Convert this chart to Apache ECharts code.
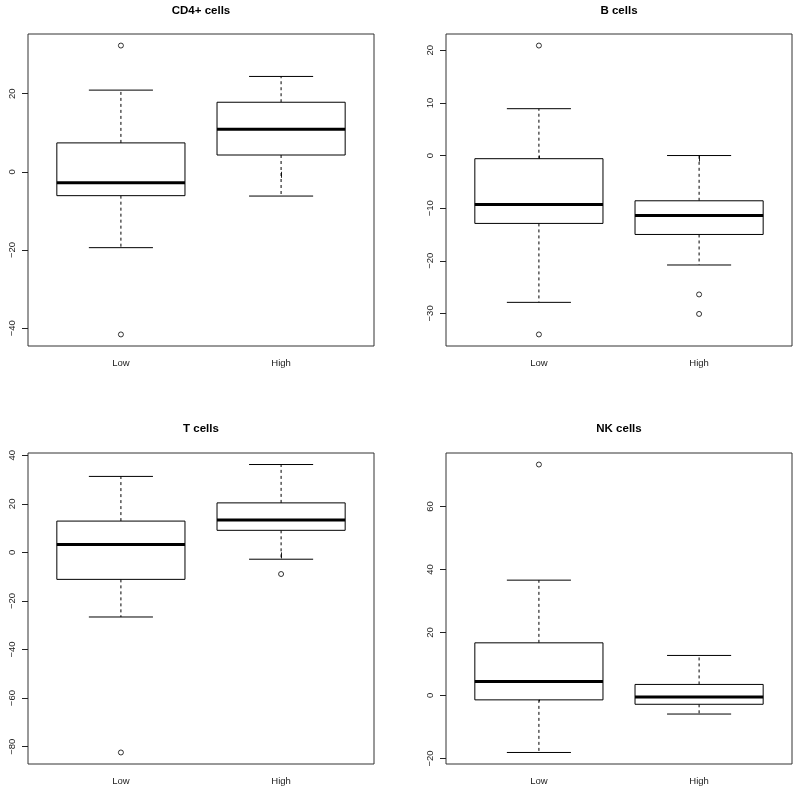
<!DOCTYPE html>
<html>
<head>
<meta charset="utf-8">
<script src="https://cdn.jsdelivr.net/npm/echarts@6/dist/echarts.min.js"></script>
<style>
  html, body { margin: 0; padding: 0; background: #fff; }
  #chart { width: 800px; height: 794px; }
</style>
</head>
<body>
<div id="chart"></div>
<script>
// categories on the x axis of every panel
const categories = ['Low', 'High'];
const titles = ['CD4+ cells', 'B cells', 'T cells', 'NK cells'];

// box stats per group: [lower whisker, Q1, median, Q3, upper whisker]
const cd4Box = [[-19.4, -6.1, -2.8, 7.4, 20.9], [-6.2, 4.3, 10.9, 17.8, 24.4]];
const bBox   = [[-27.9, -12.9, -9.3, -0.6, 8.9], [-20.8, -15.0, -11.4, -8.6, 0.0]];
const tBox   = [[-26.6, -11.1, 3.3, 12.9, 31.3], [-2.8, 9.1, 13.4, 20.4, 36.2]];
const nkBox  = [[-18.1, -1.4, 4.4, 16.7, 36.6], [-5.9, -2.8, -0.5, 3.5, 12.7]];

// outliers: [group index (0 = Low, 1 = High), value]
const cd4Out = [[0, 32.3], [0, -41.6]];
const bOut   = [[0, 20.9], [0, -34.0], [1, -26.4], [1, -30.1]];
const tOut   = [[0, -82.4], [1, -8.9]];
const nkOut  = [[0, 73.3]];

// y tick labels
const cd4Ticks = [-40, -20, 0, 20];
const bTicks   = [-30, -20, -10, 0, 10, 20];
const tTicks   = [-80, -60, -40, -20, 0, 20, 40];
const nkTicks  = [-20, 0, 20, 40, 60];

const panels = [
  { box: cd4Box, out: cd4Out, ticks: cd4Ticks },
  { box: bBox, out: bOut, ticks: bTicks },
  { box: tBox, out: tOut, ticks: tTicks },
  { box: nkBox, out: nkOut, ticks: nkTicks }
];

// layout (R par defaults on a 2x2 layout)
const grids = [
  { left: 28, top: 34, width: 346, height: 312 },
  { left: 446, top: 34, width: 346, height: 312 },
  { left: 28, top: 453, width: 346, height: 311 },
  { left: 446, top: 453, width: 346, height: 311 }
];
const titleTops = [5, 5, 423, 423];

const BOX_HALF = 0.4;   // boxwex 0.8
const CAP_HALF = 0.2;   // staplewex 0.5
const FONT = '"Liberation Sans", Arial, Helvetica, sans-serif';
const INK = '#000';

function renderBox(params, api) {
  const x = api.value(0);
  const lw = api.value(1), q1 = api.value(2), med = api.value(3), q3 = api.value(4), uw = api.value(5);
  const p = (dx, y) => api.coord([x + dx, y]);
  const seg = (a, b, style) => ({
    type: 'line',
    shape: { x1: a[0], y1: a[1], x2: b[0], y2: b[1] },
    style: Object.assign({ stroke: INK, lineWidth: 1, fill: null }, style)
  });
  const tl = p(-BOX_HALF, q3), br = p(BOX_HALF, q1);
  return {
    type: 'group',
    children: [
      seg(p(0, q3), p(0, uw), { lineDash: [3, 3] }),
      seg(p(0, q1), p(0, lw), { lineDash: [3, 3] }),
      seg(p(-CAP_HALF, uw), p(CAP_HALF, uw), {}),
      seg(p(-CAP_HALF, lw), p(CAP_HALF, lw), {}),
      {
        type: 'rect',
        shape: { x: tl[0], y: tl[1], width: br[0] - tl[0], height: br[1] - tl[1] },
        style: { stroke: INK, lineWidth: 1, fill: '#fff' }
      },
      seg(p(-BOX_HALF, med), p(BOX_HALF, med), { lineWidth: 3 })
    ]
  };
}

const option = {
  animation: false,
  title: [],
  grid: [],
  xAxis: [],
  yAxis: [],
  series: []
};

panels.forEach((pn, i) => {
  const g = grids[i];
  // R style range: data extent padded by 4%
  const vals = pn.box.flat().concat(pn.out.map(o => o[1]));
  const lo = Math.min(...vals), hi = Math.max(...vals);
  const pad = (hi - lo) * 0.04;

  option.title.push({
    text: titles[i],
    left: g.left + g.width / 2,
    top: titleTops[i],
    textAlign: 'center',
    padding: 0,
    textStyle: { fontFamily: FONT, fontSize: 11.5, fontWeight: 'bold', color: INK }
  });
  option.grid.push(Object.assign({
    show: true, borderColor: '#333', borderWidth: 1, backgroundColor: 'transparent'
  }, g));
  option.xAxis.push({
    type: 'value',
    gridIndex: i,
    min: 0.42,
    max: 2.58,
    axisLine: { show: false },
    splitLine: { show: false },
    axisTick: { customValues: [1, 2], length: 6, lineStyle: { color: '#222' } },
    axisLabel: {
      customValues: [1, 2],
      formatter: v => categories[Math.round(v) - 1],
      margin: 12,
      fontFamily: FONT, fontSize: 9.5, color: '#222'
    }
  });
  option.yAxis.push({
    type: 'value',
    gridIndex: i,
    min: lo - pad,
    max: hi + pad,
    axisLine: { show: false },
    splitLine: { show: false },
    axisTick: { customValues: pn.ticks, length: 6, lineStyle: { color: '#222' } },
    axisLabel: {
      customValues: pn.ticks,
      formatter: v => String(v).replace('-', '\u2212'),
      rotate: 90,
      margin: 11,
      fontFamily: FONT, fontSize: 9.5, color: '#222'
    }
  });
  option.series.push({
    type: 'custom',
    xAxisIndex: i,
    yAxisIndex: i,
    renderItem: renderBox,
    encode: { x: 0, y: [1, 2, 3, 4, 5] },
    data: pn.box.map((b, k) => [k + 1].concat(b)),
    silent: true
  });
  option.series.push({
    type: 'scatter',
    xAxisIndex: i,
    yAxisIndex: i,
    symbol: 'circle',
    symbolSize: 5,
    itemStyle: { color: 'transparent', borderColor: INK, borderWidth: 1 },
    data: pn.out.map(o => [o[0] + 1, o[1]]),
    silent: true,
    z: 3
  });
});

const myChart = echarts.init(document.getElementById('chart'));
myChart.setOption(option);
window.addEventListener('resize', () => myChart.resize());
</script>
</body>
</html>
